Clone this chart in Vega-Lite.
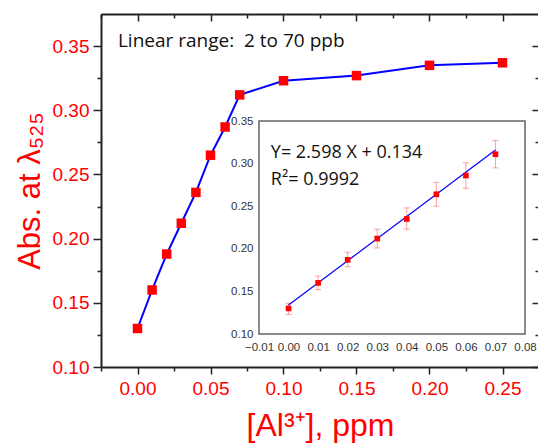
{
  "$schema": "https://vega.github.io/schema/vega-lite/v6.json",
  "width": 438,
  "height": 353,
  "autosize": {"type": "none"},
  "padding": {"left": 101, "top": 14, "right": 0, "bottom": 76},
  "background": "white",
  "config": {"view": {"stroke": null}, "font": "Liberation Sans"},
  "datasets": {
    "main": [
      {"x": 0.00, "y": 0.130}, {"x": 0.01, "y": 0.160}, {"x": 0.02, "y": 0.188},
      {"x": 0.03, "y": 0.212}, {"x": 0.04, "y": 0.236}, {"x": 0.05, "y": 0.265},
      {"x": 0.06, "y": 0.287}, {"x": 0.07, "y": 0.312}, {"x": 0.10, "y": 0.323},
      {"x": 0.15, "y": 0.327}, {"x": 0.20, "y": 0.335}, {"x": 0.25, "y": 0.337}
    ],
    "inset": [
      {"x": 0.00, "y": 0.130, "lo": 0.123, "hi": 0.136},
      {"x": 0.01, "y": 0.160, "lo": 0.152, "hi": 0.168},
      {"x": 0.02, "y": 0.187, "lo": 0.179, "hi": 0.196},
      {"x": 0.03, "y": 0.212, "lo": 0.201, "hi": 0.223},
      {"x": 0.04, "y": 0.235, "lo": 0.223, "hi": 0.248},
      {"x": 0.05, "y": 0.264, "lo": 0.250, "hi": 0.278},
      {"x": 0.06, "y": 0.286, "lo": 0.271, "hi": 0.301},
      {"x": 0.07, "y": 0.311, "lo": 0.295, "hi": 0.327}
    ],
    "fit": [{"x": 0.0, "y": 0.134}, {"x": 0.07, "y": 0.3159}]
  },
  "layer": [
    {
      "data": {"name": "main"},
      "encoding": {
        "x": {
          "field": "x", "type": "quantitative",
          "scale": {"domain": [-0.025, 0.275], "nice": false, "zero": false},
          "axis": {
            "orient": "bottom",
            "values": [-0.025, 0, 0.025, 0.05, 0.075, 0.1, 0.125, 0.15, 0.175, 0.2, 0.225, 0.25, 0.275],
            "format": ".2f", "labelOverlap": false, "labelFlush": false,
            "labelExpr": "abs(datum.value*20 - round(datum.value*20)) < 0.001 ? datum.label : ''",
            "labelColor": "#ff0000", "labelFontSize": 19, "labelPadding": 5, "labelFont": "Liberation Sans",
            "tickSize": {"condition": {"test": "abs(datum.value*20 - round(datum.value*20)) < 0.001", "value": 7}, "value": 4},
            "tickColor": "#222", "tickWidth": 1.5, "domainColor": "#222", "domainWidth": 2, "grid": false,
            "title": "[Al³⁺], ppm", "titleColor": "#ff0000", "titleFontSize": 32, "titleFontWeight": "normal",
            "titleFont": "Liberation Sans", "titlePadding": 12
          }
        },
        "y": {
          "field": "y", "type": "quantitative",
          "scale": {"domain": [0.1, 0.375], "nice": false, "zero": false},
          "axis": {
            "orient": "left",
            "values": [0.1, 0.125, 0.15, 0.175, 0.2, 0.225, 0.25, 0.275, 0.3, 0.325, 0.35],
            "format": ".2f", "labelOverlap": false, "labelFlush": false,
            "labelExpr": "abs(datum.value*20 - round(datum.value*20)) < 0.001 ? datum.label : ''",
            "labelColor": "#ff0000", "labelFontSize": 19, "labelPadding": 4, "labelFont": "Liberation Sans",
            "tickSize": {"condition": {"test": "abs(datum.value*20 - round(datum.value*20)) < 0.001", "value": 8}, "value": 4},
            "tickColor": "#222", "tickWidth": 1.5, "domainColor": "#222", "domainWidth": 2, "grid": false,
            "title": "Abs. at λ₅₂₅", "titleColor": "#ff0000", "titleFontSize": 31, "titleFontWeight": "normal",
            "titleFont": "Liberation Sans", "titlePadding": 6
          }
        }
      },
      "layer": [
        {"mark": {"type": "line", "color": "#0000ff", "strokeWidth": 2}},
        {"mark": {"type": "square", "color": "#ff0000", "size": 90, "opacity": 1}},
        {
          "transform": [{"filter": "datum.x == 0"}],
          "mark": {"type": "text", "align": "left", "baseline": "middle", "font": "Open Sans", "fontSize": 19, "color": "#111"},
          "encoding": {"x": {"datum": -0.0134, "type": "quantitative"}, "y": {"datum": 0.354, "type": "quantitative"}, "text": {"value": "Linear range:\u00a0 2 to 70 ppb"}}
        }
      ]
    },
    {
      "data": {"name": "main"},
      "mark": {"type": "point", "opacity": 0},
      "encoding": {
        "x": {
          "field": "x", "type": "quantitative",
          "scale": {"domain": [-0.025, 0.275], "nice": false, "zero": false},
          "axis": {
            "orient": "top", "labels": false, "title": null, "grid": false,
            "values": [-0.025, 0, 0.025, 0.05, 0.075, 0.1, 0.125, 0.15, 0.175, 0.2, 0.225, 0.25, 0.275],
            "tickSize": {"condition": {"test": "abs(datum.value*20 - round(datum.value*20)) < 0.001", "value": -7}, "value": -4},
            "tickColor": "#222", "tickWidth": 1.5, "domainColor": "#222", "domainWidth": 2
          }
        },
        "y": {
          "field": "y", "type": "quantitative",
          "scale": {"domain": [0.1, 0.375], "nice": false, "zero": false},
          "axis": {
            "orient": "right", "labels": false, "title": null, "grid": false,
            "values": [0.1, 0.125, 0.15, 0.175, 0.2, 0.225, 0.25, 0.275, 0.3, 0.325, 0.35],
            "tickSize": {"condition": {"test": "abs(datum.value*20 - round(datum.value*20)) < 0.001", "value": -7}, "value": -4},
            "tickColor": "#222", "tickWidth": 1.5, "domainColor": "#222", "domainWidth": 2
          }
        }
      }
    },
    {
      "data": {"name": "inset"},
      "encoding": {
        "x": {
          "field": "x", "type": "quantitative",
          "scale": {"domain": [-0.01, 0.08], "nice": false, "zero": false, "range": [158, 424]},
          "axis": {
            "orient": "bottom", "offset": -33,
            "values": [-0.01, 0, 0.01, 0.02, 0.03, 0.04, 0.05, 0.06, 0.07, 0.08],
            "format": ".2f", "ticks": false, "domain": false, "grid": false, "labelOverlap": false, "labelFlush": false,
            "labelColor": "#333", "labelFontSize": 11.5, "labelPadding": 7, "labelFont": "Liberation Sans",
            "title": null
          }
        },
        "y": {
          "field": "y", "type": "quantitative",
          "scale": {"domain": [0.1, 0.35], "nice": false, "zero": false, "range": [320, 107]},
          "axis": {
            "orient": "left", "offset": -158,
            "values": [0.1, 0.15, 0.2, 0.25, 0.3, 0.35],
            "format": ".2f", "ticks": false, "domain": false, "grid": false, "labelOverlap": false, "labelFlush": false,
            "labelColor": "#333", "labelFontSize": 11.5, "labelPadding": 6, "labelFont": "Liberation Sans",
            "title": null
          }
        }
      },
      "layer": [
        {
          "transform": [{"filter": "datum.x == 0"}],
          "mark": {"type": "rect", "fill": "white", "stroke": "#666", "strokeWidth": 1.5},
          "encoding": {
            "x": {"datum": -0.01, "type": "quantitative"}, "x2": {"datum": 0.08},
            "y": {"datum": 0.1, "type": "quantitative"}, "y2": {"datum": 0.35}
          }
        },
        {
          "mark": {"type": "rule", "color": "#ff6060", "opacity": 0.6, "strokeWidth": 1},
          "encoding": {"y": {"field": "lo", "type": "quantitative"}, "y2": {"field": "hi"}}
        },
        {
          "mark": {"type": "tick", "orient": "horizontal", "color": "#ff6060", "opacity": 0.6, "size": 6, "thickness": 1},
          "encoding": {"y": {"field": "lo", "type": "quantitative"}}
        },
        {
          "mark": {"type": "tick", "orient": "horizontal", "color": "#ff6060", "opacity": 0.6, "size": 6, "thickness": 1},
          "encoding": {"y": {"field": "hi", "type": "quantitative"}}
        },
        {
          "data": {"name": "fit"},
          "mark": {"type": "line", "color": "#0000ff", "strokeWidth": 1.2}
        },
        {"mark": {"type": "square", "color": "#ff0000", "size": 32, "opacity": 1}},
        {
          "transform": [{"filter": "datum.x == 0"}],
          "mark": {"type": "text", "align": "left", "baseline": "middle", "font": "Open Sans", "fontSize": 18, "color": "#111"},
          "encoding": {"x": {"datum": -0.006, "type": "quantitative"}, "y": {"datum": 0.3124, "type": "quantitative"}, "text": {"value": "Y= 2.598 X + 0.134"}}
        },
        {
          "transform": [{"filter": "datum.x == 0"}],
          "mark": {"type": "text", "align": "left", "baseline": "middle", "font": "Open Sans", "fontSize": 18, "color": "#111"},
          "encoding": {"x": {"datum": -0.006, "type": "quantitative"}, "y": {"datum": 0.2808, "type": "quantitative"}, "text": {"value": "R²= 0.9992"}}
        }
      ]
    }
  ],
  "resolve": {
    "scale": {"x": "independent", "y": "independent"},
    "axis": {"x": "independent", "y": "independent"}
  }
}
